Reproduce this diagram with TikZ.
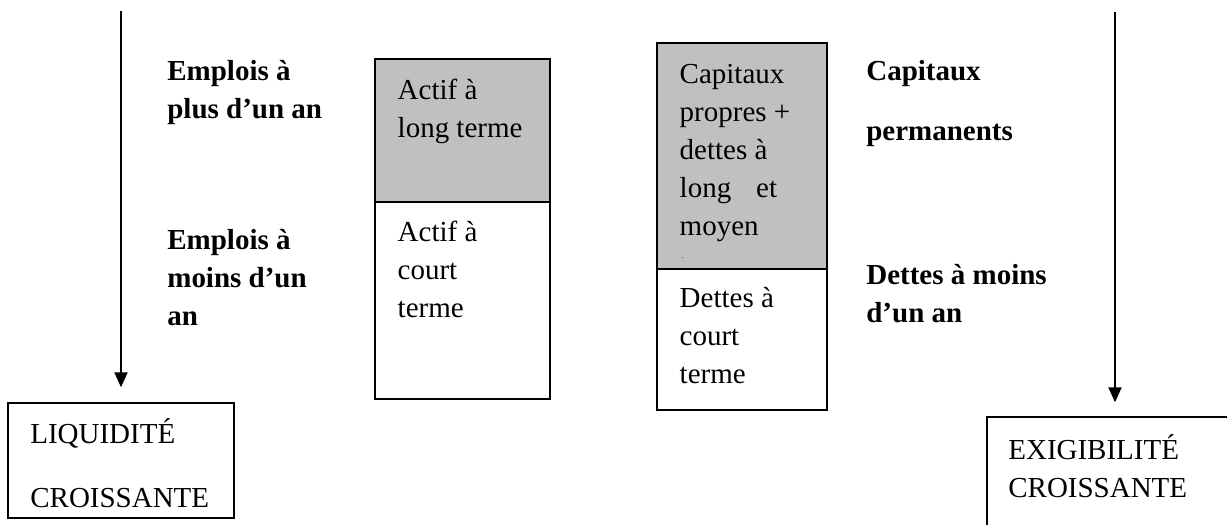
\documentclass[tikz,border=0pt]{standalone}
\usepackage{fontspec}
\setmainfont{Liberation Serif}
\usetikzlibrary{arrows.meta}
\definecolor{gris}{HTML}{C0C0C0}

\begin{document}
\begin{tikzpicture}[x=0.02cm, y=-0.02cm,
		texte/.style={anchor=base west, inner sep=0pt, align=left, font=\fontsize{16.5}{21.6}\selectfont},
		gras/.style={texte, font=\fontsize{16.5}{21.6}\selectfont\bfseries},
		cadre/.style={draw, line width=0.8pt, inner sep=0pt},
		fleche/.style={-{Triangle[length=0.3cm, width=0.26cm]}, line width=1.1pt}]
	\useasboundingbox (0,0) rectangle (1227,524);
	% Cote gauche : liquidite
	\begin{scope}
		\coordinate (hautG) at (121, 11);
		\node[cadre, minimum width=4.52cm, minimum height=2.3cm] (liq) at (121, 460.5) {};
		\node[texte] (liqtxt) at (30, 507) {LIQUIDITÉ\\[0.52cm]CROISSANTE};
		\node[gras] (empplus) at (167, 118) {Emplois à\\plus d’un an};
		\node[gras] (empmoins) at (167, 325) {Emplois à\\moins d’un\\an};
	\end{scope}
	% Kasten actif
	\begin{scope}[line width=0.8pt]
		\filldraw[fill=gris] (375, 59) rectangle (550, 202);
		\draw (375, 202) rectangle (550, 399);
		\node[texte] (actlong) at (397, 137) {Actif à\\long terme};
		\node[texte] (actcourt) at (397, 317) {Actif à\\court\\terme};
	\end{scope}
	% Kasten passif
	\begin{scope}[line width=0.8pt]
		\filldraw[fill=gris] (657, 43) rectangle (827, 269);
		\draw (657, 269) rectangle (827, 410);
		\node[texte] (cappro) at (679, 235) {Capitaux\\propres +\\dettes à\\long\hspace{0.5cm}et\\moyen};
		\node[texte, font=\fontsize{4}{5}\selectfont] (point) at (681, 258) {.};
		\node[texte] (detcourt) at (679, 383) {Dettes à\\court\\terme};
	\end{scope}
	% Cote droit : exigibilite
	\begin{scope}
		\coordinate (hautD) at (1115, 12);
		\node[cadre, minimum width=5.12cm, minimum height=2.46cm] (exi) at (1115, 478.5) {};
		\node[texte] (exitxt) at (1008, 497) {EXIGIBILITÉ\\CROISSANTE};
		\node[gras] (capperm) at (866, 140) {Capitaux\\[0.44cm]permanents};
		\node[gras] (detmoins) at (866, 322) {Dettes à moins\\d’un an};
	\end{scope}
	% Pfeile
	\draw[fleche, shorten >=0.3cm] (hautG) -- (liq.north);
	\draw[fleche, shorten >=0.28cm] (hautD) -- (exi.north);
\end{tikzpicture}
\end{document}
